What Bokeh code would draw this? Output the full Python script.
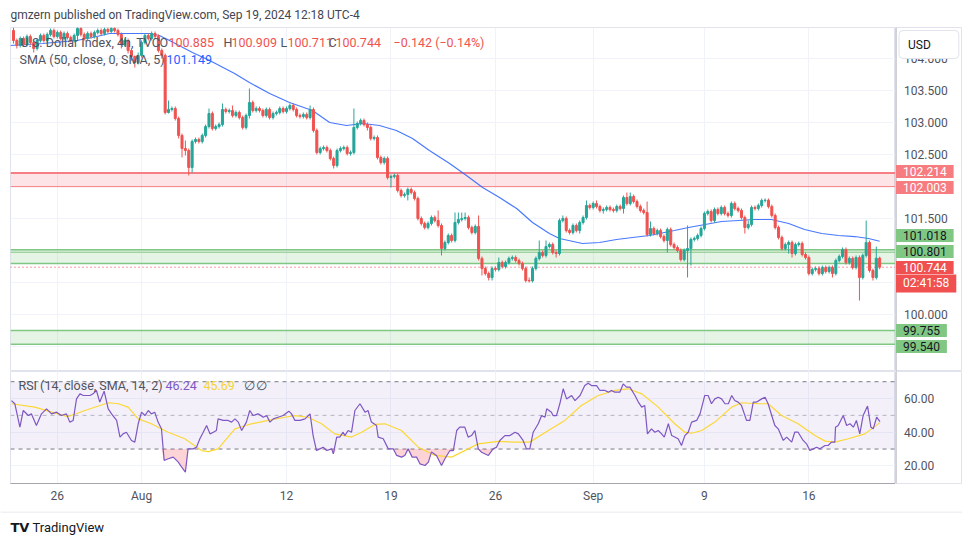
from bokeh.plotting import figure
from bokeh.models import (Range1d, LinearAxis, FixedTicker, Label, Span, BoxAnnotation,
                          ColumnDataSource)
from bokeh.core.properties import value
from bokeh.layouts import column, row
from bokeh.embed import file_html
from bokeh.resources import INLINE

# ---------------- data ----------------
first_open = 104.442
closes = [104.286,104.208,104.317,104.223,104.348,104.255,104.161,104.286,104.364,104.286,
          104.380,104.442,104.348,104.411,104.317,104.395,104.333,104.286,104.364,104.473,
          104.380,104.317,104.395,104.348,104.411,104.442,104.395,104.458,104.427,104.473,
          104.442,104.380,104.223,104.286,104.130,104.036,103.942,104.052,104.255,104.364,
          104.317,104.395,104.348,104.130,104.052,103.161,103.208,103.223,103.067,102.802,
          102.598,102.567,102.302,102.708,102.739,102.708,102.802,102.942,103.145,102.911,
          102.942,102.973,103.208,103.177,103.192,103.114,103.161,103.083,102.927,103.114,
          103.317,103.192,103.223,103.192,103.114,103.208,103.083,103.145,103.161,103.223,
          103.177,103.223,103.270,103.208,103.114,103.098,103.130,103.083,103.208,102.880,
          102.536,102.598,102.614,102.567,102.442,102.333,102.567,102.598,102.614,102.520,
          102.536,102.927,102.989,103.036,102.973,102.927,102.755,102.770,102.458,102.380,
          102.442,102.145,102.161,102.177,101.942,101.864,101.880,101.958,101.911,101.817,
          101.505,101.427,101.364,101.427,101.520,101.473,101.395,101.036,101.130,101.239,
          101.161,101.442,101.489,101.505,101.520,101.364,101.286,101.380,100.880,100.723,
          100.645,100.583,100.723,100.708,100.817,100.755,100.817,100.880,100.895,100.848,
          100.802,100.723,100.536,100.530,100.723,100.880,100.973,100.927,101.067,101.098,
          100.973,100.958,101.473,101.505,101.317,101.286,101.395,101.317,101.442,101.520,
          101.708,101.677,101.739,101.692,101.630,101.645,101.677,101.645,101.630,101.692,
          101.661,101.833,101.739,101.848,101.770,101.692,101.630,101.598,101.255,101.348,
          101.270,101.317,101.223,101.161,101.333,101.098,101.052,101.005,100.864,101.005,
          101.036,101.177,101.192,101.239,101.348,101.583,101.614,101.473,101.645,101.583,
          101.677,101.583,101.552,101.739,101.661,101.630,101.520,101.364,101.411,101.677,
          101.661,101.708,101.786,101.790,101.692,101.552,101.364,101.208,101.036,101.098,
          101.130,100.958,101.098,101.114,100.942,100.895,100.645,100.708,100.723,100.645,
          100.739,100.677,100.739,100.645,100.848,100.911,101.020,100.817,100.880,100.739,
          100.895,100.583,100.927,101.130,100.692,100.583,100.885,100.744]
highs = [104.489,104.317,104.348,104.348,104.380,104.380,104.286,104.317,104.395,104.395,
         104.411,104.473,104.473,104.442,104.442,104.427,104.427,104.364,104.395,104.505,
         104.505,104.411,104.427,104.427,104.442,104.473,104.473,104.489,104.489,104.505,
         104.505,104.473,104.411,104.317,104.317,104.161,104.052,104.098,104.286,104.395,
         104.395,104.427,104.427,104.380,104.161,104.083,103.348,103.255,103.255,103.098,
         102.833,102.723,102.598,102.739,102.770,102.770,102.833,102.973,103.223,103.177,
         102.973,103.005,103.302,103.239,103.223,103.270,103.192,103.192,103.114,103.145,
         103.536,103.348,103.255,103.255,103.223,103.239,103.239,103.177,103.192,103.255,
         103.255,103.255,103.302,103.302,103.239,103.145,103.161,103.161,103.270,103.239,
         102.911,102.630,102.645,102.645,102.598,102.473,102.598,102.630,102.645,102.645,
         102.567,103.223,103.020,103.067,103.067,103.005,102.958,102.802,102.802,102.489,
         102.473,102.473,102.192,102.208,102.208,101.973,101.911,101.989,101.989,101.942,
         101.848,101.536,101.458,101.458,101.552,101.552,101.630,101.427,101.161,101.270,
         101.270,101.598,101.598,101.598,101.598,101.552,101.395,101.411,101.552,100.911,
         100.755,100.677,100.755,100.755,100.895,100.848,100.848,100.911,100.927,100.927,
         100.880,100.833,100.755,100.583,100.755,100.911,101.161,101.005,101.161,101.130,
         101.130,101.005,101.505,101.552,101.536,101.348,101.427,101.427,101.473,101.552,
         101.786,101.739,101.770,101.786,101.723,101.677,101.708,101.708,101.677,101.723,
         101.723,101.864,101.911,101.911,101.880,101.802,101.723,101.661,101.770,101.458,
         101.380,101.348,101.348,101.255,101.364,101.364,101.130,101.083,101.036,101.036,
         101.395,101.208,101.223,101.270,101.380,101.614,101.645,101.645,101.677,101.677,
         101.708,101.708,101.614,101.770,101.770,101.692,101.661,101.552,101.473,101.708,
         101.708,101.739,101.817,101.817,101.817,101.723,101.583,101.395,101.239,101.130,
         101.161,101.161,101.130,101.145,101.145,100.973,100.927,100.739,100.755,100.755,
         100.770,100.770,100.770,100.770,100.880,100.942,101.052,101.052,100.911,100.911,
         100.927,100.927,100.958,101.473,101.161,100.723,101.067,100.909]
lows = [104.239,104.161,104.177,104.192,104.192,104.223,104.098,104.130,104.255,104.255,
        104.255,104.348,104.317,104.317,104.286,104.286,104.302,104.255,104.255,104.286,
        104.348,104.286,104.286,104.317,104.317,104.380,104.364,104.364,104.395,104.395,
        104.411,104.348,104.161,104.192,104.083,103.973,103.864,103.911,104.020,104.223,
        104.286,104.286,104.317,104.098,104.005,103.130,103.145,103.177,103.036,102.755,
        102.458,102.489,102.177,102.223,102.677,102.677,102.677,102.770,102.911,102.880,
        102.880,102.911,102.942,103.145,103.145,103.083,103.083,103.052,102.895,102.895,
        103.067,103.161,103.161,103.161,103.083,103.083,103.052,103.052,103.114,103.130,
        103.145,103.145,103.192,103.177,103.083,103.067,103.067,103.052,103.052,102.848,
        102.505,102.505,102.567,102.536,102.411,102.286,102.302,102.536,102.567,102.489,
        102.489,102.505,102.895,102.958,102.942,102.880,102.723,102.723,102.427,102.348,
        102.348,102.114,101.989,102.130,101.911,101.833,101.833,101.786,101.880,101.786,
        101.473,101.395,101.333,101.333,101.395,101.442,101.364,100.927,101.005,101.098,
        101.130,101.130,101.411,101.458,101.473,101.333,101.255,101.255,100.848,100.614,
        100.614,100.536,100.536,100.677,100.677,100.723,100.723,100.786,100.848,100.817,
        100.770,100.692,100.505,100.505,100.505,100.692,100.848,100.895,100.895,101.036,
        100.942,100.895,100.927,101.442,101.286,101.255,101.255,101.286,101.270,101.411,
        101.489,101.645,101.645,101.661,101.598,101.583,101.614,101.614,101.598,101.598,
        101.630,101.583,101.708,101.708,101.739,101.661,101.598,101.567,101.223,101.223,
        101.239,101.239,101.192,101.130,100.973,101.067,101.020,100.973,100.833,100.833,
        100.583,100.770,101.145,101.161,101.208,101.317,101.552,101.442,101.442,101.552,
        101.552,101.552,101.520,101.520,101.630,101.598,101.489,101.270,101.333,101.380,
        101.630,101.630,101.677,101.755,101.661,101.520,101.333,101.177,101.005,101.005,
        100.958,100.895,100.927,101.067,100.911,100.864,100.614,100.614,100.677,100.614,
        100.614,100.645,100.645,100.583,100.614,100.817,100.880,100.786,100.786,100.708,
        100.708,100.223,100.552,100.895,100.661,100.536,100.552,100.711]

sma_bar = [-0.9, 8.6, 18.7, 23.4, 28.5, 33.5, 40.4, 43.3, 46.3, 53.1, 58.2, 65.6, 70, 76, 81.9,
           88.7, 93.8, 98.8, 103.6, 108.6, 113.6, 118.4, 123.4, 129.4, 134.4, 139.2, 144.2,
           149.3, 154, 159, 162, 168.8, 173.9, 178.9, 183.7, 188.7, 196.1, 200.3, 210.1, 219.9,
           224.9, 230, 234.7, 239.8, 244.8, 249.6, 253.7, 257]
sma_val = [104.208, 104.239, 104.286, 104.333, 104.395, 104.395, 104.395, 104.364, 104.286,
           104.098, 103.973, 103.770, 103.630, 103.458, 103.317, 103.192, 103.005, 102.958,
           102.989, 102.958, 102.880, 102.755, 102.567, 102.364, 102.177, 101.989, 101.833,
           101.661, 101.442, 101.270, 101.192, 101.114, 101.130, 101.177, 101.208, 101.239,
           101.317, 101.364, 101.458, 101.489, 101.489, 101.427, 101.333, 101.270, 101.239,
           101.223, 101.192, 101.149]

rsi_bar = [-0.6, 0.4, 1.9, 2.9, 4.4, 5.3, 6.8, 8.3, 9.8, 11.3, 12.8, 14.2, 15.7, 16.7, 17.7,
           18.7, 19.7, 20.7, 22.7, 23.6, 24.6, 25.6, 26.9, 28.1, 29.1, 30.6, 31.6, 32.5, 33.5,
           35.0, 36.0, 37.0, 38.0, 39.0, 40.0, 40.9, 41.9, 42.9, 43.9, 44.7, 45.9, 47.4, 48.9,
           49.9, 51.0, 51.8, 53.3, 54.3, 55.3, 56.3, 57.3, 58.3, 59.3, 60.2, 60.7, 62.2, 63.7,
           64.7, 65.7, 66.7, 67.7, 69.1, 70.1, 71.1, 72.6, 74.1, 75.1, 76.1, 77.1, 78.5, 80.0,
           81.7, 82.5, 83.5, 85.0, 86.5, 88.0, 88.9, 89.9, 90.9, 91.9, 92.9, 94.4, 94.9, 95.9,
           96.8, 97.8, 98.3, 99.3, 100.3, 101.3, 102.8, 104.3, 105.2, 106.2, 107.7, 108.2,
           109.7, 111.2, 112.7, 113.7, 115.1, 116.1, 117.1, 118.3, 119.6, 120.6, 122.1, 123.1,
           124.0, 125.5, 127.0, 128.0, 129.5, 130.5, 131.5, 132.4, 133.9, 134.9, 135.9, 136.9,
           137.9, 138.9, 140.9, 142.3, 143.3, 144.3, 145.8, 147.3, 148.8, 149.8, 151.2, 152.2,
           153.2, 154.2, 155.7, 156.7, 157.7, 158.2, 159.6, 160.1, 161.1, 162.1, 163.1, 164.1,
           165.6, 166.6, 168.1, 169.5, 170.5, 171.5, 173.0, 174.0, 175.5, 176.5, 177.4, 178.4,
           179.9, 180.9, 181.9, 182.9, 184.4, 185.4, 186.4, 187.3, 188.1, 189.3, 190.3, 191.3,
           192.3, 193.1, 194.3, 195.3, 196.2, 197.2, 198.2, 199.2, 200.2, 201.2, 202.7, 203.7,
           204.6, 205.1, 206.1, 207.1, 208.1, 209.1, 210.1, 211.1, 212.1, 213.1, 214.0, 215.0,
           216.0, 217.5, 218.5, 219.5, 220.5, 222.0, 223.0, 223.9, 225.9, 226.9, 228.4, 229.4,
           230.9, 231.8, 232.8, 234.3, 235.3, 236.3, 237.3, 238.3, 239.3, 240.8, 241.7, 242.7,
           243.7, 243.9, 244.7, 246.2, 247.2, 248.2, 249.2, 250.1, 251.1, 252.1, 253.4, 254.4,
           255.1, 256.1, 257.1]
rsi_val = [58.8, 56.9, 43.0, 52.9, 49.9, 50.9, 44.0, 50.9, 53.9, 50.9, 51.9, 49.9, 50.9, 46.0,
           47.0, 59.8, 62.8, 61.8, 61.8, 62.8, 64.8, 57.9, 64.4, 53.9, 50.9, 47.0, 37.1, 39.0,
           40.0, 35.1, 34.1, 45.0, 51.9, 49.9, 52.9, 50.9, 51.9, 46.0, 42.0, 23.2, 24.2, 25.2,
           22.2, 19.2, 16.3, 30.1, 30.1, 31.1, 36.1, 40.0, 44.0, 39.0, 40.0, 41.0, 47.9, 47.0,
           47.0, 46.0, 47.9, 46.0, 41.0, 46.0, 52.9, 49.9, 50.9, 48.9, 49.9, 46.0, 47.9, 48.9,
           49.9, 52.5, 50.9, 47.0, 47.0, 47.9, 50.9, 38.0, 29.1, 30.1, 31.1, 29.1, 30.1, 27.1,
           37.1, 37.1, 40.0, 38.0, 41.0, 40.0, 52.9, 56.9, 51.9, 52.9, 46.0, 44.0, 37.1, 36.1,
           30.1, 30.1, 26.2, 25.2, 26.2, 30.1, 25.2, 25.2, 21.2, 20.2, 22.2, 28.2, 26.2, 20.2,
           24.2, 29.1, 29.1, 41.0, 43.0, 43.0, 37.1, 38.0, 41.0, 30.1,
           28.1, 26.2, 30.1, 31.1, 35.1, 38.0, 38.0, 40.0, 39.0, 35.1, 30.1, 30.1, 40.0, 45.0,
           49.9, 48.9, 53.9, 51.9, 49.9, 49.9, 56.9, 65.8, 59.8, 61.8, 58.8, 61.8, 67.7, 69.1,
           67.7, 67.7, 64.8, 64.8, 63.8, 64.8, 63.8, 63.8, 68.7, 66.8, 66.8, 61.8, 57.9, 54.9,
           55.9, 39.0, 42.0, 40.0, 41.0, 39.0, 37.1, 45.0, 38.0, 37.1, 36.1, 32.1, 38.0, 40.0,
           46.0, 47.0, 50.9, 57.9, 61.8, 61.8, 56.9, 59.8, 60.8, 59.8, 56.9, 56.9, 61.8, 58.8,
           57.9, 55.9, 47.0, 47.0, 57.9, 57.9, 59.8, 60.8, 56.9, 44.0, 42.0, 35.1, 37.1, 34.1,
           40.0, 40.0, 35.1, 33.1, 29.1, 30.1, 31.1, 30.1, 32.1, 32.1, 34.1, 34.1, 43.0, 44.0,
           49.9, 44.0, 45.0, 43.0, 47.0, 39.0, 49.9, 55.5, 43.0, 42.0, 48.9, 46.24]
rsi_ma_bar = [-0.6, 6.3, 11.3, 16.2, 21.2, 28.1, 31.1, 34.0, 37.0, 40.9, 45.9, 50.8, 55.8,
              57.8, 60.7, 65.7, 70.6, 75.6, 80.5, 83.5, 87.4, 91.4, 95.3, 100.3, 103.3, 107.2,
              110.2, 115.1, 120.1, 125.0, 130.0, 134.9, 137.9, 143.8, 148.8, 153.2, 158.7,
              163.6, 168.5, 173.5, 178.4, 182.4, 186.4, 191.3, 196.2, 199.2, 201.2, 204.2,
              208.1, 213.1, 216.0, 221.0, 223.9, 227.9, 232.8, 237.8, 240.8, 243.7, 247.7,
              252.6, 257.1]
rsi_ma_val = [56.9, 54.9, 51.9, 49.3, 52.9, 57.5, 56.9, 54.9, 47.9, 45.0, 40.0, 36.1, 29.1,
              28.5, 30.1, 42.0, 45.0, 47.0, 48.9, 49.9, 48.9, 45.0, 39.0, 37.1, 40.0, 44.6,
              45.0, 41.0, 31.1, 26.2, 25.2, 30.1, 33.1, 34.5, 34.1, 34.1, 41.0, 47.0, 55.9,
              61.8, 64.8, 65.8, 62.8, 54.9, 45.0, 40.0, 39.4, 41.0, 46.0, 54.9, 57.5, 56.9,
              56.9, 49.9, 45.0, 38.0, 34.7, 34.1, 36.1, 39.0, 45.69]

tick_bars = [13, 38, 81, 112, 143, 172, 205, 236]
tick_labels = ["26", "Aug", "12", "19", "26", "Sep", "9", "16"]
price_ticks = [100.0, 101.5, 102.5, 103.0, 103.5, 104.0]
price_grid = [99.5, 100.0, 100.5, 101.0, 101.5, 102.0, 102.5, 103.0, 103.5, 104.0]
rsi_ticks = [20, 40, 60]

red_zone = (102.003, 102.214)
green_zone = (100.801, 101.018)
green_zone_inner = 100.978
green_zone_low = (99.540, 99.755)
change, change_pct = -0.142, -0.14
sma_last = sma_val[-1]
rsi_last, rsi_ma_last = rsi_val[-1], rsi_ma_val[-1]
countdown = "02:41:58"

# ---------------- styling ----------------
UP, DOWN = "#26a69a", "#ef5350"
GRID = "#f0f3fa"
TXT = "#50535e"
BORDER = "#e0e3eb"
AXLINE = "#a3a6af"
FONT = "Roboto"

X0, X1 = -0.89, 261.7
PY0, PY1 = 99.1141, 104.4891
RY0, RY1 = 9.52, 76.07

xr = Range1d(X0, X1)


def blank(width, height, xrng, yrng, **kw):
    return figure(width=width, height=height, x_range=xrng, y_range=yrng,
                  output_backend="svg", toolbar_location=None,
                  x_axis_location=None, y_axis_location=None,
                  background_fill_color="white", border_fill_color="white", **kw)


def lab(fig, xd, yd, dx, dy, text, color, size="12.5px", **kw):
    fig.add_layout(Label(x=xd, y=yd, x_offset=dx, y_offset=dy, text=text,
                         text_font=FONT, text_font_size=size, text_color=color,
                         text_align="left", text_baseline="middle", **kw))


# ---------------- header ----------------
hdr = blank(962, 27, Range1d(0, 962), Range1d(0, 27), min_border=0, outline_line_color=None)
hdr.grid.visible = False
lab(hdr, 10, 13, 0, 0, "gmzern published on TradingView.com, Sep 19, 2024 12:18 UTC-4",
    "#434651", "12px")

# ---------------- main price pane ----------------
p1 = blank(895, 344, xr, Range1d(PY0, PY1), min_border_left=10, min_border_right=0,
           min_border_top=0, min_border_bottom=0, outline_line_color=BORDER)
p1.xgrid.ticker = FixedTicker(ticks=tick_bars)
p1.ygrid.ticker = FixedTicker(ticks=price_grid)
p1.xgrid.grid_line_color = GRID
p1.ygrid.grid_line_color = GRID

p1.add_layout(BoxAnnotation(bottom=red_zone[0], top=red_zone[1], fill_color="#f23645",
                            fill_alpha=0.13, line_color=None, level="underlay"))
p1.add_layout(Span(location=red_zone[1], dimension="width", line_color="#f57f85",
                   line_width=2, level="underlay"))
p1.add_layout(Span(location=red_zone[0], dimension="width", line_color="#f57f85",
                   line_width=1, level="underlay"))
for lo, hi in (green_zone, green_zone_low):
    p1.add_layout(BoxAnnotation(bottom=lo, top=hi, fill_color="#4caf50", fill_alpha=0.14,
                                line_color=None, level="underlay"))
    for loc in (lo, hi):
        p1.add_layout(Span(location=loc, dimension="width", line_color="#81c784",
                           line_width=1.5, level="underlay"))
p1.add_layout(Span(location=green_zone_inner, dimension="width", line_color="#81c784",
                   line_width=1, level="underlay"))
p1.add_layout(Span(location=closes[-1], dimension="width", line_color="#f23645",
                   line_dash="1 3", line_width=1, level="underlay"))

p1.line(sma_bar, sma_val, line_color="#2962ff", line_width=1.2, line_alpha=0.85)

n = len(closes)
opens = [first_open] + closes[:-1]
bars = list(range(n))
colors = [UP if c >= o else DOWN for o, c in zip(opens, closes)]
src = ColumnDataSource(dict(x=bars, h=highs, l=lows,
                            top=[max(o, c) for o, c in zip(opens, closes)],
                            bottom=[min(o, c) for o, c in zip(opens, closes)],
                            color=colors))
p1.segment(x0="x", y0="l", x1="x", y1="h", line_color="color", line_width=1, source=src)
p1.vbar(x="x", width=0.6, top="top", bottom="bottom", fill_color="color",
        line_color="color", line_width=1, source=src)

o_, h_, l_, c_ = opens[-1], highs[-1], lows[-1], closes[-1]
legend1 = [("U.S. Dollar Index, 4h, TVC", 20, TXT), ("O", 159, TXT), (f"{o_:.3f}", 168, DOWN),
           ("H", 223, TXT), (f"{h_:.3f}", 231, DOWN), ("L", 280, TXT), (f"{l_:.3f}", 287, DOWN),
           ("C", 328, TXT), (f"{c_:.3f}", 335, DOWN),
           (f"\u2212{abs(change):.3f} (\u2212{abs(change_pct):.2f}%)", 393, DOWN)]
for t, px, col in legend1:
    lab(p1, X0, PY1, px - 10, -15, t, col)
lab(p1, X0, PY1, 9, -32, "SMA (50, close, 0, SMA, 5)", TXT)
lab(p1, X0, PY1, 156, -32, f"{sma_last:.3f}", "#2962ff")

# ---------------- price scale strip ----------------
s1 = blank(67, 344, Range1d(-0.5, 66.5), p1.y_range, min_border=0, outline_line_color=BORDER)
s1.grid.visible = False
s1.add_layout(Span(location=0, dimension="height", line_color=AXLINE, line_width=1))
s1.text(x=[8] * len(price_ticks), y=price_ticks, text=[f"{t:.3f}" for t in price_ticks],
        text_font=value(FONT), text_font_size=value("12px"), text_color=TXT,
        text_baseline="middle", text_align="left")
pad = dict(left=7, right=7, top=2, bottom=2)
scale_labels = [  # (price, text, bg, fg, nudge px up to avoid overlap)
    (red_zone[1], f"{red_zone[1]:.3f}", "#f77c80", "white", 1.6),
    (red_zone[0], f"{red_zone[0]:.3f}", "#f77c80", "white", -0.9),
    (green_zone[1], f"{green_zone[1]:.3f}", "#81c784", "#131722", 14.1),
    (green_zone[0], f"{green_zone[0]:.3f}", "#81c784", "#131722", 12.0),
    (closes[-1], f"{closes[-1]:.3f}", "#f0504f", "white", -0.3),
    (closes[-1], countdown, "#f0504f", "white", -16.3),
    (green_zone_low[1], f"{green_zone_low[1]:.3f}", "#81c784", "#131722", 0.0),
    (green_zone_low[0], f"{green_zone_low[0]:.3f}", "#81c784", "#131722", -2.3),
]
for yv, t, bg, fg, dy in scale_labels:
    s1.add_layout(Label(x=0, y=yv, x_offset=0, y_offset=dy, text=t, text_font=FONT,
                        text_font_size="12px", text_color=fg, text_align="left",
                        text_baseline="middle", background_fill_color=bg,
                        background_fill_alpha=1.0, padding=pad))
s1.add_layout(Label(x=0, y=PY1, x_offset=3, y_offset=-17, text="USD", text_font=FONT,
                    text_font_size="12px", text_color="#131722", text_align="left",
                    text_baseline="middle", background_fill_color="white",
                    background_fill_alpha=1.0, border_line_color=BORDER,
                    padding=dict(left=9, right=28, top=7, bottom=7), border_radius=4))

# ---------------- RSI pane ----------------
p2 = blank(895, 140, xr, Range1d(RY0, RY1), min_border_left=10, min_border_right=0,
           min_border_top=0, min_border_bottom=28, outline_line_color=BORDER)
p2.xgrid.ticker = FixedTicker(ticks=tick_bars)
p2.ygrid.ticker = FixedTicker(ticks=rsi_ticks)
p2.xgrid.grid_line_color = GRID
p2.ygrid.grid_line_color = GRID
tax = LinearAxis(ticker=FixedTicker(ticks=tick_bars),
                 major_label_overrides={b: t for b, t in zip(tick_bars, tick_labels)},
                 major_tick_line_color=None, minor_tick_line_color=None,
                 major_tick_out=0, major_tick_in=0,
                 axis_line_color=AXLINE, major_label_standoff=5,
                 major_label_text_font=FONT, major_label_text_font_size="12px",
                 major_label_text_color=TXT)
p2.add_layout(tax, "below")

p2.add_layout(BoxAnnotation(bottom=30, top=70, fill_color="#7e57c2", fill_alpha=0.09,
                            line_color=None, level="underlay"))
for loc, a in ((70, 1.0), (50, 0.5), (30, 1.0)):
    p2.add_layout(Span(location=loc, dimension="width", line_color="#787b86", line_alpha=a,
                       line_dash="4 4", line_width=1, level="underlay"))
p2.varea(x=rsi_bar, y1=[30.0] * len(rsi_val), y2=[min(v, 30.0) for v in rsi_val],
         fill_color="#f23645", fill_alpha=0.22)
p2.line(rsi_ma_bar, rsi_ma_val, line_color="#fdd835", line_width=1.2)
p2.line(rsi_bar, rsi_val, line_color="#7e57c2", line_width=1.2)

lab(p2, X0, RY1, 8, -14, "RSI (14, close, SMA, 14, 2)", TXT)
lab(p2, X0, RY1, 155, -14, f"{rsi_last:.2f}", "#7e57c2")
lab(p2, X0, RY1, 193, -14, f"{rsi_ma_last:.2f}", "#f5d33a")
lab(p2, X0, RY1, 233, -14, "\u2205", TXT)
lab(p2, X0, RY1, 245, -14, "\u2205", TXT)

s2 = blank(67, 140, Range1d(-0.5, 66.5), p2.y_range, min_border=0, min_border_bottom=28,
           outline_line_color=BORDER)
s2.grid.visible = False
s2.add_layout(Span(location=0, dimension="height", line_color=AXLINE, line_width=1))
s2.text(x=[8] * len(rsi_ticks), y=rsi_ticks, text=[f"{t:.2f}" for t in rsi_ticks],
        text_font=value(FONT), text_font_size=value("12px"), text_color=TXT,
        text_baseline="middle", text_align="left")

# ---------------- footer ----------------
ftr = blank(962, 30, Range1d(0, 962), Range1d(0, 30), min_border=0, outline_line_color=None)
ftr.grid.visible = False
ftr.add_layout(Span(location=29.5, dimension="width", line_color=BORDER, line_width=1))
ftr.add_layout(Label(x=10, y=14, text="TV", text_font="DejaVu Sans", text_font_size="13px",
                     text_font_style="bold", text_color="#131722", text_align="left",
                     text_baseline="middle"))
lab(ftr, 32, 14, 0, 0, "TradingView", "#131722", "13px")

layout = column(hdr, row(p1, s1), row(p2, s2), ftr)
open("out.html", "w").write(file_html(layout, INLINE))
